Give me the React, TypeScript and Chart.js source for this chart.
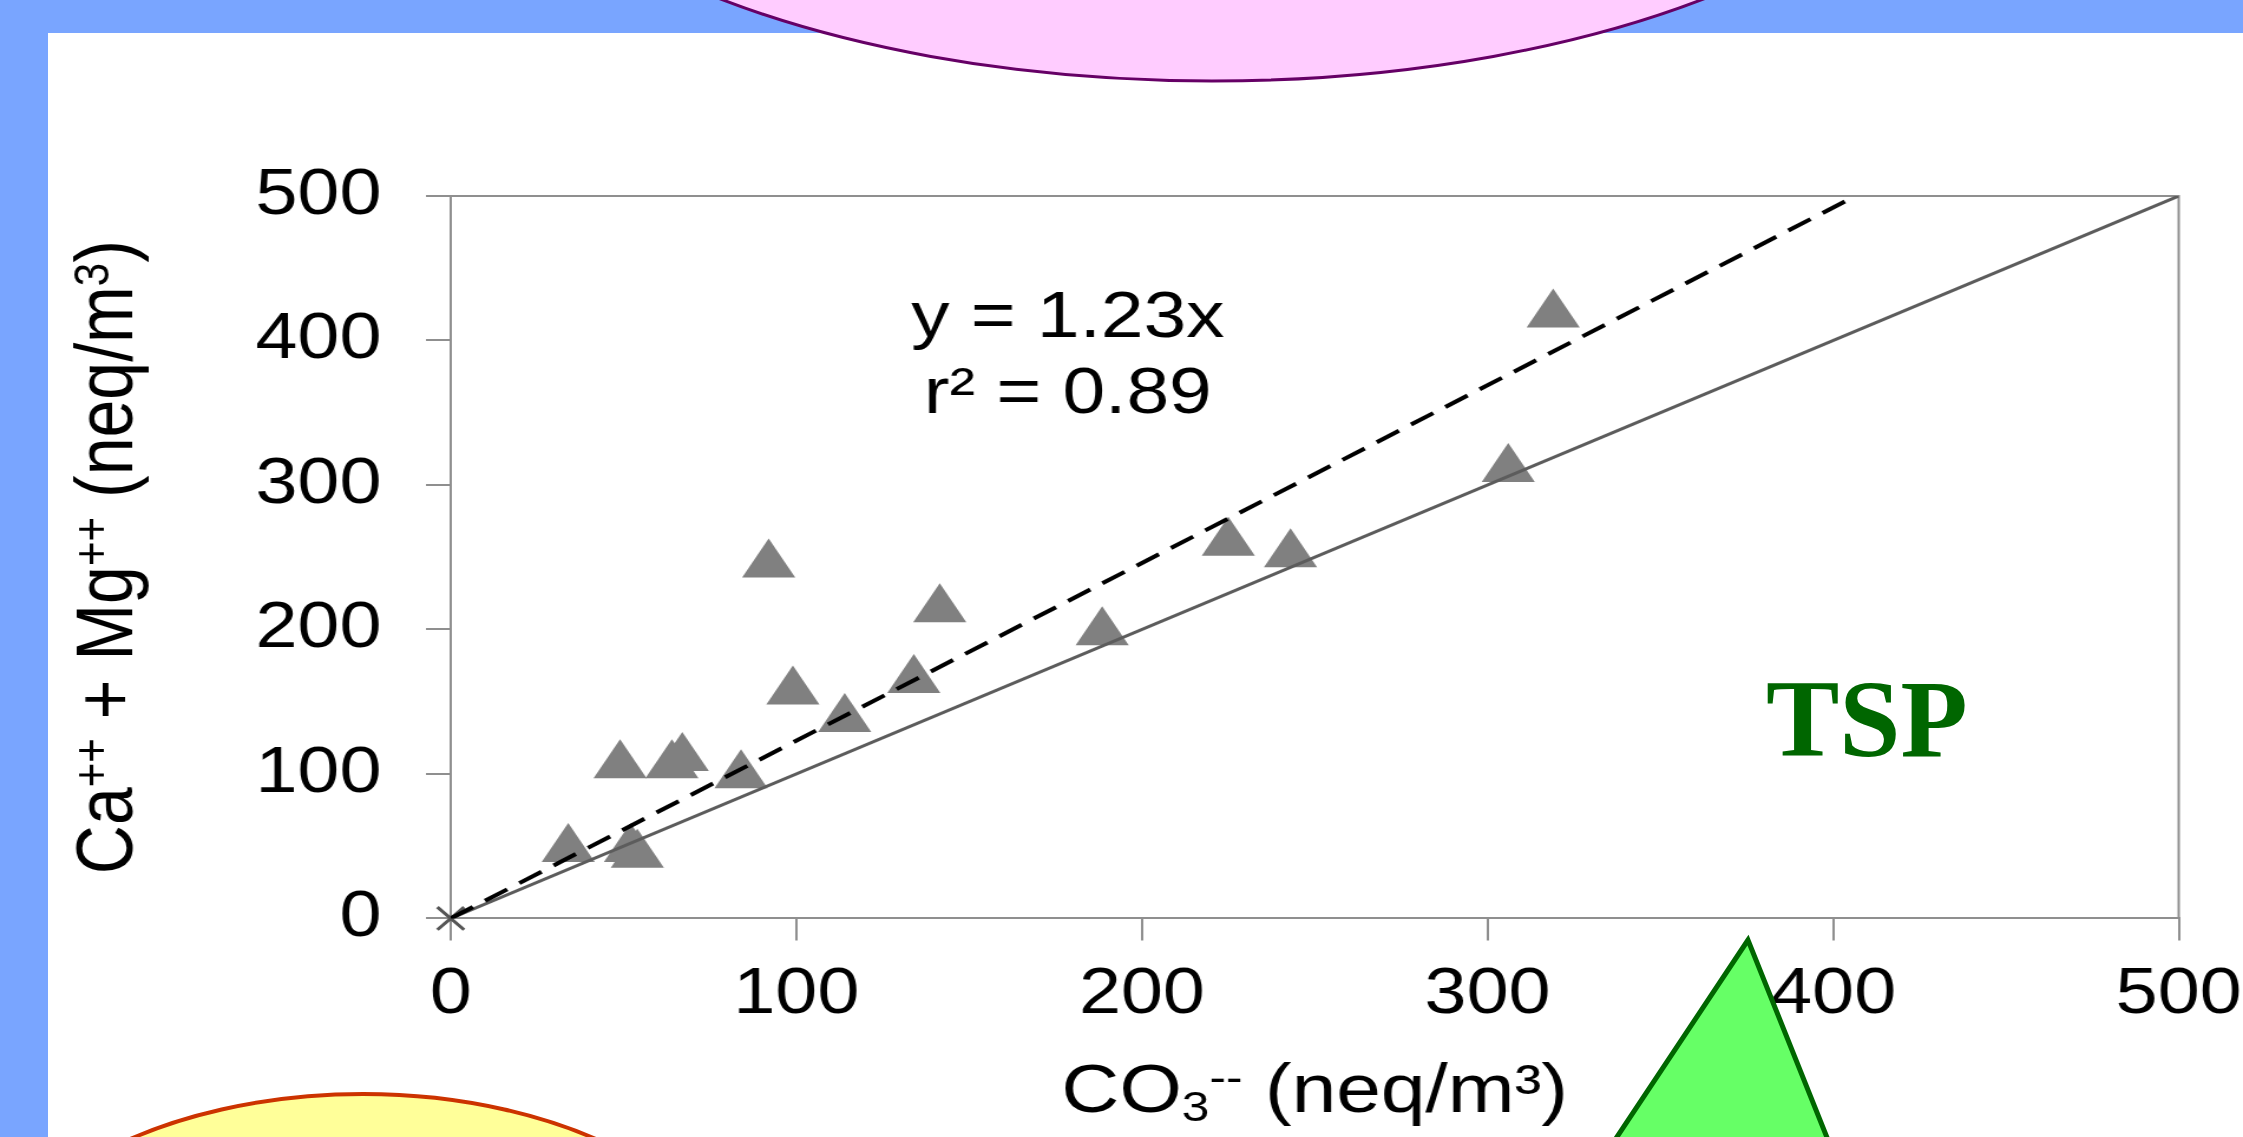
import React, { useEffect, useRef } from "react";
import { Chart, registerables } from "chart.js";

Chart.register(...registerables);

// ---------------- data ----------------
const CO3_VALUES = [34, 52, 54, 49, 64, 67, 84, 92, 99, 114, 134, 141.5, 188.5, 225, 243, 306, 319];
const CA_MG_VALUES = [48, 48, 44, 106, 106, 111, 99, 245, 157, 138, 165, 214, 198, 260, 252, 311, 418];
const FIT_X = [0, 406.5];
const FIT_Y = [0, 500];
const ONE_TO_ONE_X = [0, 500];
const ONE_TO_ONE_Y = [0, 500];
const ORIGIN_X = [0];
const ORIGIN_Y = [0];
const X_TICKS = [0, 100, 200, 300, 400, 500];
const Y_TICKS = [0, 100, 200, 300, 400, 500];
const EQUATION_LINES = ["y = 1.23x", "r\u00b2 = 0.89"];
// [text, kind] kind: 0 normal, 1 superscript, -1 subscript
const Y_TITLE: [string, number][] = [["Ca", 0], ["++", 1], [" + Mg", 0], ["++", 1], [" (neq/m", 0], ["3", 1], [")", 0]];
const X_TITLE: [string, number][] = [["CO", 0], ["3", -1], ["--", 1], [" (neq/m\u00b3)", 0]];
const BADGE_TEXT = "TSP";

// ---------------- layout constants ----------------
const PAGE_W = 2243;
const PAGE_H = 1137;
const CANVAS_W = 1901; // drawn horizontally stretched to PAGE_W
const FONT = "'Liberation Sans', Arial, Helvetica, sans-serif";
const AXIS_GREY = "#8f8f8f";

function segFont(size: number) {
  return `${size}px ${FONT}`;
}

function richWidth(ctx: CanvasRenderingContext2D, segs: [string, number][], size: number) {
  let w = 0;
  for (const [t, k] of segs) {
    ctx.font = segFont(k ? size * 0.62 : size);
    w += ctx.measureText(t).width;
  }
  return w;
}

function drawRich(ctx: CanvasRenderingContext2D, segs: [string, number][], size: number, x: number, y: number) {
  let cx = x;
  for (const [t, k] of segs) {
    const s = k ? size * 0.62 : size;
    ctx.font = segFont(s);
    const dy = k === 1 ? -size * 0.3 : k === -1 ? size * 0.13 : 0;
    ctx.fillText(t, cx, y + dy);
    cx += ctx.measureText(t).width;
  }
}

const decorPlugin = {
  id: "decor",
  beforeDatasetsDraw(chart: any) {
    const { ctx, chartArea } = chart;
    ctx.save();
    ctx.strokeStyle = AXIS_GREY;
    ctx.lineWidth = 2;
    ctx.beginPath();
    ctx.moveTo(chartArea.left, chartArea.top);
    ctx.lineTo(chartArea.right, chartArea.top);
    ctx.lineTo(chartArea.right, chartArea.bottom);
    ctx.stroke();
    ctx.restore();
  },
  afterDraw(chart: any) {
    const { ctx, chartArea } = chart;
    const titleSize = 68;
    ctx.save();
    ctx.fillStyle = "#000";
    ctx.textAlign = "left";
    ctx.textBaseline = "alphabetic";
    // x title
    const xw = richWidth(ctx, X_TITLE, titleSize);
    drawRich(ctx, X_TITLE, titleSize, (chartArea.left + chartArea.right) / 2 - xw / 2, chartArea.bottom + 194);
    // y title
    const yw = richWidth(ctx, Y_TITLE, titleSize);
    ctx.save();
    ctx.translate(chartArea.left - 270, (chartArea.top + chartArea.bottom) / 2);
    ctx.rotate(-Math.PI / 2);
    drawRich(ctx, Y_TITLE, titleSize, -yw / 2, 0);
    ctx.restore();
    // equation
    ctx.font = segFont(65);
    ctx.textAlign = "center";
    ctx.fillText(EQUATION_LINES[0], chartArea.left + 523, chartArea.top + 141);
    ctx.fillText(EQUATION_LINES[1], chartArea.left + 523, chartArea.top + 217);
    ctx.restore();
  },
};

export default function App() {
  const canvasRef = useRef<HTMLCanvasElement>(null);

  useEffect(() => {
    const canvas = canvasRef.current;
    if (!canvas) return;
    const pts = (xs: number[], ys: number[]) => xs.map((x, i) => ({ x, y: ys[i] }));
    const chart = new Chart(canvas, {
      type: "scatter",
      data: {
        datasets: [
          {
            label: "1:1",
            data: pts(ONE_TO_ONE_X, ONE_TO_ONE_Y),
            showLine: true,
            borderColor: "#5c5c5c",
            borderWidth: 3,
            pointRadius: 0,
            order: 1,
          } as any,
          {
            label: "fit",
            data: pts(FIT_X, FIT_Y),
            showLine: true,
            borderColor: "#000000",
            borderWidth: 4,
            borderDash: [22, 12],
            pointRadius: 0,
            order: 0,
          } as any,
          {
            label: "origin",
            data: pts(ORIGIN_X, ORIGIN_Y),
            pointStyle: "crossRot",
            pointRadius: 16,
            borderColor: "#555555",
            borderWidth: 3,
            clip: false,
            order: 0,
          } as any,
          {
            label: "TSP",
            data: pts(CO3_VALUES, CA_MG_VALUES),
            pointStyle: "triangle",
            pointRadius: 26,
            backgroundColor: "#808080",
            borderWidth: 0,
            order: 2,
          } as any,
        ],
      },
      options: {
        responsive: false,
        animation: false,
        events: [],
        layout: { padding: { left: 0, top: 196, right: 54.5, bottom: 0 } },
        plugins: { legend: { display: false }, tooltip: { enabled: false } },
        scales: {
          x: {
            type: "linear",
            min: X_TICKS[0],
            max: X_TICKS[X_TICKS.length - 1],
            ticks: {
              stepSize: X_TICKS[1] - X_TICKS[0],
              font: { family: FONT, size: 64 },
              color: "#000",
              padding: 17,
              maxRotation: 0,
              autoSkip: false,
            },
            grid: { display: true, drawOnChartArea: false, drawTicks: true, tickLength: 22, color: AXIS_GREY, lineWidth: 2 },
            border: { display: true, color: AXIS_GREY, width: 2 },
            afterFit: (s: any) => {
              s.height = 218.6;
              s.paddingLeft = 0;
              s.paddingRight = 0;
            },
          },
          y: {
            type: "linear",
            min: Y_TICKS[0],
            max: Y_TICKS[Y_TICKS.length - 1],
            ticks: {
              stepSize: Y_TICKS[1] - Y_TICKS[0],
              font: { family: FONT, size: 64 },
              color: "#000",
              padding: 37.7,
              autoSkip: false,
            },
            grid: { display: true, drawOnChartArea: false, drawTicks: true, tickLength: 21, color: AXIS_GREY, lineWidth: 2 },
            border: { display: true, color: AXIS_GREY, width: 2 },
            afterFit: (s: any) => {
              s.width = 382;
              s.paddingTop = 0;
              s.paddingBottom = 0;
            },
          },
        },
      } as any,
      plugins: [decorPlugin],
    });
    return () => chart.destroy();
  }, []);

  return (
    <div
      style={{
        position: "fixed",
        left: 0,
        top: 0,
        width: PAGE_W,
        height: PAGE_H,
        overflow: "hidden",
        background: "#79a5ff",
      }}
    >
      <div style={{ position: "absolute", left: 48, top: 33, right: 0, bottom: 0, background: "#ffffff" }} />
      <canvas
        ref={canvasRef}
        width={CANVAS_W}
        height={PAGE_H}
        style={{ position: "absolute", left: 0, top: 0, width: `${PAGE_W}px`, height: `${PAGE_H}px` }}
      />
      <svg width={PAGE_W} height={PAGE_H} style={{ position: "absolute", left: 0, top: 0, pointerEvents: "none" }}>
        <ellipse cx={1212} cy={-269} rx={764} ry={350} fill="#ffccff" stroke="#660066" strokeWidth={3} />
        <ellipse cx={363} cy={1314} rx={384} ry={220} fill="#ffff99" stroke="#cc3300" strokeWidth={4} />
        <polygon points="1748,940 1575,1200 1852,1200" fill="#66ff66" stroke="#006600" strokeWidth={5} />
      </svg>
      <div
        style={{
          position: "absolute",
          left: 1766,
          top: 664,
          font: "bold 110px 'Liberation Serif', 'Times New Roman', serif",
          lineHeight: "110px",
          color: "#006600",
          whiteSpace: "nowrap",
        }}
      >
        {BADGE_TEXT}
      </div>
    </div>
  );
}
